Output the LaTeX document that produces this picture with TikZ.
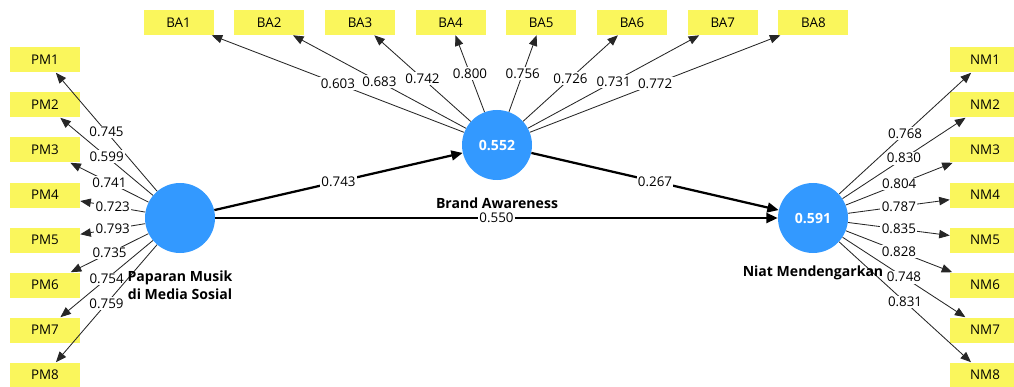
\documentclass[tikz,border=0pt]{standalone}
\usepackage{fontspec}
\setmainfont{Open Sans}
\usetikzlibrary{arrows.meta}
\definecolor{colcircle}{RGB}{51,153,255}
\definecolor{colbox}{RGB}{250,246,92}
\tikzset{
  % LATENT VARIABLES
  frameLatent/.style={
    circle,
    fill=colcircle,
    minimum size=1.75cm, inner sep=0pt,
    text=white,
    font=\fontsize{10}{12}\selectfont\bfseries
  },
  % INDICATOR BOXES
  frameIndicator/.style={
    rectangle,
    fill=colbox,
    minimum width=1.75cm, minimum height=0.625cm, inner sep=0pt,
    font=\fontsize{9.5}{11}\selectfont
  },
  % LATENT NAMES
  frameName/.style={
    align=center,
    font=\fontsize{10}{12.5}\selectfont\bfseries
  },
  % COEFFICIENTS
  frameCoef/.style={
    fill=white, inner sep=1pt,
    font=\fontsize{9.5}{11}\selectfont
  },
  % OUTER LOADINGS
  lineLoad/.style={
    draw=black!85, line width=0.6pt, -{Triangle[length=7.5pt,width=6pt]}
  },
  % PATH COEFFICIENTS
  linePath/.style={
    draw=black, line width=1.6pt, -{Triangle[length=8pt,width=7pt]}
  }
}

\begin{document}
\begin{tikzpicture}
\useasboundingbox (0,0) rectangle (25.35,-9.675);
\clip (0,0) rectangle (25.35,-9.675);

% Latent variables
\node [frameLatent] (pm) at (4.5,-5.45) {};
\node [frameLatent] (ba) at (12.425,-3.625) {0.552};
\node [frameLatent] (nm) at (20.325,-5.45) {0.591};

% Indicators of Paparan Musik
\node [frameIndicator] (pm1) at (1.125,-1.5) {PM1};
\node [frameIndicator] (pm2) at (1.125,-2.625) {PM2};
\node [frameIndicator] (pm3) at (1.125,-3.75) {PM3};
\node [frameIndicator] (pm4) at (1.125,-4.875) {PM4};
\node [frameIndicator] (pm5) at (1.125,-6.0) {PM5};
\node [frameIndicator] (pm6) at (1.125,-7.125) {PM6};
\node [frameIndicator] (pm7) at (1.125,-8.25) {PM7};
\node [frameIndicator] (pm8) at (1.125,-9.375) {PM8};

% Indicators of Brand Awareness
\node [frameIndicator] (ba1) at (4.4625,-0.5625) {BA1};
\node [frameIndicator] (ba2) at (6.73,-0.5625) {BA2};
\node [frameIndicator] (ba3) at (9.0,-0.5625) {BA3};
\node [frameIndicator] (ba4) at (11.265,-0.5625) {BA4};
\node [frameIndicator] (ba5) at (13.53,-0.5625) {BA5};
\node [frameIndicator] (ba6) at (15.8,-0.5625) {BA6};
\node [frameIndicator] (ba7) at (18.07,-0.5625) {BA7};
\node [frameIndicator] (ba8) at (20.335,-0.5625) {BA8};

% Indicators of Niat Mendengarkan
\node [frameIndicator] (nm1) at (24.625,-1.5) {NM1};
\node [frameIndicator] (nm2) at (24.625,-2.625) {NM2};
\node [frameIndicator] (nm3) at (24.625,-3.75) {NM3};
\node [frameIndicator] (nm4) at (24.625,-4.875) {NM4};
\node [frameIndicator] (nm5) at (24.625,-6.0) {NM5};
\node [frameIndicator] (nm6) at (24.625,-7.125) {NM6};
\node [frameIndicator] (nm7) at (24.625,-8.25) {NM7};
\node [frameIndicator] (nm8) at (24.625,-9.375) {NM8};

% Loadings Paparan Musik
\path [lineLoad] (pm) -- node [frameCoef] {0.745} (pm1) ;
\path [lineLoad] (pm) -- node [frameCoef] {0.599} (pm2) ;
\path [lineLoad] (pm) -- node [frameCoef] {0.741} (pm3) ;
\path [lineLoad] (pm) -- node [frameCoef] {0.723} (pm4) ;
\path [lineLoad] (pm) -- node [frameCoef] {0.793} (pm5) ;
\path [lineLoad] (pm) -- node [frameCoef] {0.735} (pm6) ;
\path [lineLoad] (pm) -- node [frameCoef] {0.754} (pm7) ;
\path [lineLoad] (pm) -- node [frameCoef] {0.759} (pm8) ;

% Loadings Brand Awareness
\path [lineLoad] (ba) -- node [frameCoef] {0.603} (ba1) ;
\path [lineLoad] (ba) -- node [frameCoef] {0.683} (ba2) ;
\path [lineLoad] (ba) -- node [frameCoef] {0.742} (ba3) ;
\path [lineLoad] (ba) -- node [frameCoef] {0.800} (ba4) ;
\path [lineLoad] (ba) -- node [frameCoef] {0.756} (ba5) ;
\path [lineLoad] (ba) -- node [frameCoef] {0.726} (ba6) ;
\path [lineLoad] (ba) -- node [frameCoef] {0.731} (ba7) ;
\path [lineLoad] (ba) -- node [frameCoef] {0.772} (ba8) ;

% Loadings Niat Mendengarkan
\path [lineLoad] (nm) -- node [frameCoef] {0.768} (nm1) ;
\path [lineLoad] (nm) -- node [frameCoef] {0.830} (nm2) ;
\path [lineLoad] (nm) -- node [frameCoef] {0.804} (nm3) ;
\path [lineLoad] (nm) -- node [frameCoef] {0.787} (nm4) ;
\path [lineLoad] (nm) -- node [frameCoef] {0.835} (nm5) ;
\path [lineLoad] (nm) -- node [frameCoef] {0.828} (nm6) ;
\path [lineLoad] (nm) -- node [frameCoef] {0.748} (nm7) ;
\path [lineLoad] (nm) -- node [frameCoef] {0.831} (nm8) ;

% Inner model
\path [linePath] (pm) -- node [frameCoef] {0.743} (ba) ;
\path [linePath] (ba) -- node [frameCoef] {0.267} (nm) ;
\path [linePath] (pm) -- node [frameCoef] {0.550} (nm) ;

% Names
\node [frameName] (pm_name) at (4.5,-7.125) {Paparan Musik \\ di Media Sosial} ;
\node [frameName] (ba_name) at (12.425,-5.075) {Brand Awareness} ;
\node [frameName] (nm_name) at (20.325,-6.825) {Niat Mendengarkan} ;

\end{tikzpicture}
\end{document}
